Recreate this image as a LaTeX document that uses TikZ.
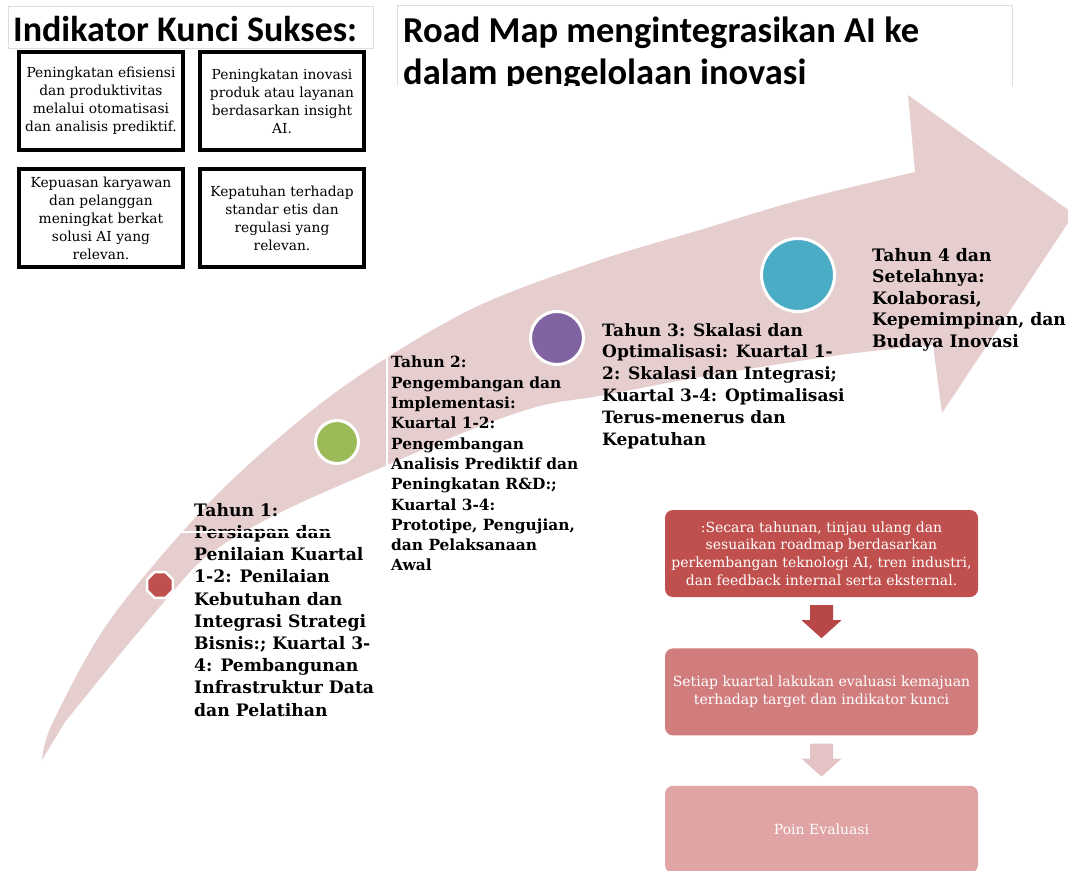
\documentclass[tikz,border=0pt]{standalone}
\usepackage{fontspec}
\setmainfont{DejaVu Serif}
\newfontfamily\calibri{Carlito}
\usetikzlibrary{positioning,calc,shapes.geometric}

\definecolor{bandpink}{RGB}{230,206,207}
\definecolor{dotred}{RGB}{192,80,77}
\definecolor{dotgreen}{RGB}{155,187,89}
\definecolor{dotpurple}{RGB}{128,100,162}
\definecolor{dotteal}{RGB}{75,172,198}
\definecolor{flowA}{RGB}{192,80,77}
\definecolor{flowB}{RGB}{209,125,126}
\definecolor{flowC}{RGB}{223,164,163}
\definecolor{arrowA}{RGB}{184,72,72}
\definecolor{arrowB}{RGB}{229,195,196}
\definecolor{framegray}{RGB}{222,222,222}

\tikzset{
  kpibox/.style={draw=black, line width=4pt, minimum width=164pt, minimum height=98pt,
    align=center, inner sep=0pt, font=\fontsize{13.8}{18}\selectfont},
  tahun/.style={anchor=north west, align=left, inner sep=0pt,
    font=\fontsize{17.2}{22.2}\selectfont\bfseries},
  dot/.style={circle, draw=white, line width=3pt, inner sep=0pt},
  flowbox/.style={rounded corners=8pt, minimum width=313pt, minimum height=87pt,
    align=center, inner sep=0pt, text=white, font=\fontsize{14}{17.7}\selectfont}
}

\begin{document}
\begin{tikzpicture}[x=1pt,y=-1pt]
\useasboundingbox (0,0) rectangle (1068,870);

\fill[bandpink] plot[smooth,tension=0.55] coordinates {(42,760) (53,722) (110,620) (207,505) (300,420) (380,362) (480,305) (600,260) (700,230) (800,200) (915,172)}
  -- (908,95) -- (1074,214) -- (942,413)
  -- plot[smooth,tension=0.55] coordinates {(933,345) (840,355) (700,377) (605,395) (540,406) (470,430) (385,466) (300,503) (240,534) (200,562) (170,595) (125,648) (65,722)} -- cycle;

\node[dot, regular polygon, regular polygon sides=8, fill=dotred, line width=2.5pt, minimum size=28pt] (dot1) at (160,585) {};
\node[dot, fill=dotgreen, minimum size=43pt] (dot2) at (337,442) {};
\node[dot, fill=dotpurple, minimum size=53pt] (dot3) at (557,338) {};
\node[dot, fill=dotteal, minimum size=73pt] (dot4) at (798,275) {};

\draw[framegray] (8,6) rectangle (373,48);
\node[anchor=base west, inner sep=0pt, font=\calibri\fontsize{36}{42}\selectfont\bfseries] (kpititle) at (13,41) {Indikator Kunci Sukses:};

\draw[framegray] (397,86) -- (397,5) -- (1012,5) -- (1012,86);
\begin{scope}
\clip (397,0) rectangle (1012,85);
\node[anchor=north west, align=left, inner sep=0pt, font=\calibri\fontsize{36.5}{42}\selectfont\bfseries] (maptitle) at (403,17) {Road Map mengintegrasikan AI ke\\dalam pengelolaan inovasi};
\end{scope}

\node[kpibox] (kpiA) at (101,101) {Peningkatan efisiensi\\dan produktivitas\\melalui otomatisasi\\dan analisis prediktif.};
\node[kpibox, right=13pt of kpiA] (kpiB) {Peningkatan inovasi\\produk atau layanan\\berdasarkan insight\\AI.};
\node[kpibox, below=15pt of kpiA] (kpiC) {Kepuasan karyawan\\dan pelanggan\\meningkat berkat\\solusi AI yang\\relevan.};
\node[kpibox, below=15pt of kpiB] (kpiD) {Kepatuhan terhadap\\standar etis dan\\regulasi yang\\relevan.};

\node[tahun] (yr1) at (194,503) {Tahun 1:\\Persiapan dan\\Penilaian Kuartal\\1-2: Penilaian\\Kebutuhan dan\\Integrasi Strategi\\Bisnis:; Kuartal 3-\\4: Pembangunan\\Infrastruktur Data\\dan Pelatihan};
\draw[white, line width=1.5pt] (173,532) -- (372,532);

\node[tahun, font=\fontsize{15.4}{20.3}\selectfont\bfseries] (yr2) at (391,356) {Tahun 2:\\Pengembangan dan\\Implementasi:\\Kuartal 1-2:\\Pengembangan\\Analisis Prediktif dan\\Peningkatan R\&D:;\\Kuartal 3-4:\\Prototipe, Pengujian,\\dan Pelaksanaan\\Awal};
\draw[white, line width=1.5pt] (387,356) -- (387,580);

\node[tahun, font=\fontsize{17}{21.8}\selectfont\bfseries] (yr3) at (602,323) {Tahun 3: Skalasi dan\\Optimalisasi: Kuartal 1-\\2: Skalasi dan Integrasi;\\Kuartal 3-4: Optimalisasi\\Terus-menerus dan\\Kepatuhan};

\node[tahun, font=\fontsize{17.2}{21.5}\selectfont\bfseries] (yr4) at (872,248) {Tahun 4 dan\\Setelahnya:\\Kolaborasi,\\Kepemimpinan, dan\\Budaya Inovasi};

\node[flowbox, fill=flowA] (evalA) at (821.5,553.5) {:Secara tahunan, tinjau ulang dan\\sesuaikan roadmap berdasarkan\\perkembangan teknologi AI, tren industri,\\dan feedback internal serta eksternal.};
\node[flowbox, fill=flowB, below=51pt of evalA] (evalB) {Setiap kuartal lakukan evaluasi kemajuan\\terhadap target dan indikator kunci};
\node[flowbox, fill=flowC, below=50pt of evalB] (evalC) {Poin Evaluasi};

\foreach \from/\col in {evalA/arrowA, evalB/arrowB}
  \fill[\col] ($(\from.south)+(-11.5,8)$) -- ++(23,0) -- ++(0,15) -- ++(8.5,0) -- ++(-20,18) -- ++(-20,-18) -- ++(8.5,0) -- cycle;

\end{tikzpicture}
\end{document}
